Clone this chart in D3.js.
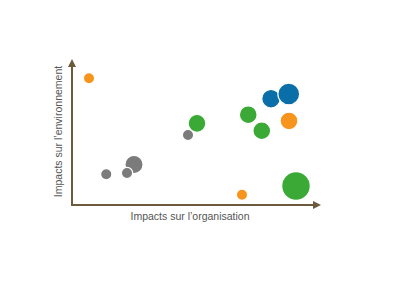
<!DOCTYPE html>
<html>
<head>
<meta charset="utf-8">
<script src="https://cdn.jsdelivr.net/npm/d3@7"></script>
<style>
html,body{margin:0;padding:0;background:#fff;}
svg{display:block;}
</style>
</head>
<body>
<svg id="chart" width="397" height="283"></svg>
<script>
// Data (abstract 0-10 scales)
const names = ["o1","g1","g2","g3","g4","gr1","gr2","gr3","b1","b2","o2","o3","gr4"];
const groups = ["orange","gray","gray","gray","gray","green","green","green","blue","blue","orange","orange","green"];
const orgImpact = [0.68,1.37,2.48,2.2,4.64,5.0,7.05,7.59,7.96,8.67,8.68,6.8,8.96];
const envImpact = [8.74,2.12,2.79,2.21,4.83,5.63,6.23,5.12,7.33,7.66,5.8,0.71,1.31];
const weights = [26,26,68,26,26,65,65,65,71,98,65,26,169];
const colorKeys = ["orange","green","blue","gray"];
const colorVals = ["#f7941d","#3aa935","#0a6fa8","#7b7b7b"];
const xLabel = "Impacts sur l’organisation";
const yLabel = "Impacts sur l’environnement";

const svg = d3.select("#chart");
const x = d3.scaleLinear().domain([0,10]).range([72,322]);
const y = d3.scaleLinear().domain([0,10]).range([205,60]);
const r = d3.scaleSqrt().domain([0,169]).range([0,14.3]);
const color = d3.scaleOrdinal().domain(colorKeys).range(colorVals);

const axisColor = "#6b5a3c";
// axes
svg.append("line").attr("x1",x(0)).attr("y1",y(0)).attr("x2",x(0)).attr("y2",y(10)+4)
  .attr("stroke",axisColor).attr("stroke-width",2);
svg.append("line").attr("x1",x(0)-1).attr("y1",y(0)).attr("x2",x(10)-5).attr("y2",y(0))
  .attr("stroke",axisColor).attr("stroke-width",2);
// arrowheads
svg.append("path").attr("d",`M${x(0)-4},${y(10)+7} L${x(0)},${y(10)-1} L${x(0)+4},${y(10)+7} Z`).attr("fill",axisColor);
svg.append("path").attr("d",`M${x(10)-9},${y(0)-4} L${x(10)-1},${y(0)} L${x(10)-9},${y(0)+4} Z`).attr("fill",axisColor);

const data = names.map((n,i)=>({n, g:groups[i], ox:orgImpact[i], ey:envImpact[i], w:weights[i]}));
svg.append("g").selectAll("circle").data(data).join("circle")
  .attr("cx",d=>x(d.ox)).attr("cy",d=>y(d.ey)).attr("r",d=>r(d.w))
  .attr("fill",d=>color(d.g)).attr("stroke","#fff").attr("stroke-width",1.2);

svg.append("text").attr("x",190).attr("y",220).attr("text-anchor","middle")
  .attr("font-family","Liberation Sans, Arial, sans-serif").attr("font-size",10.5)
  .attr("fill","#555").text(xLabel);
svg.append("text").attr("transform","translate(62,131.5) rotate(-90)").attr("text-anchor","middle")
  .attr("font-family","Liberation Sans, Arial, sans-serif").attr("font-size",10.5)
  .attr("fill","#555").text(yLabel);
</script>
</body>
</html>
